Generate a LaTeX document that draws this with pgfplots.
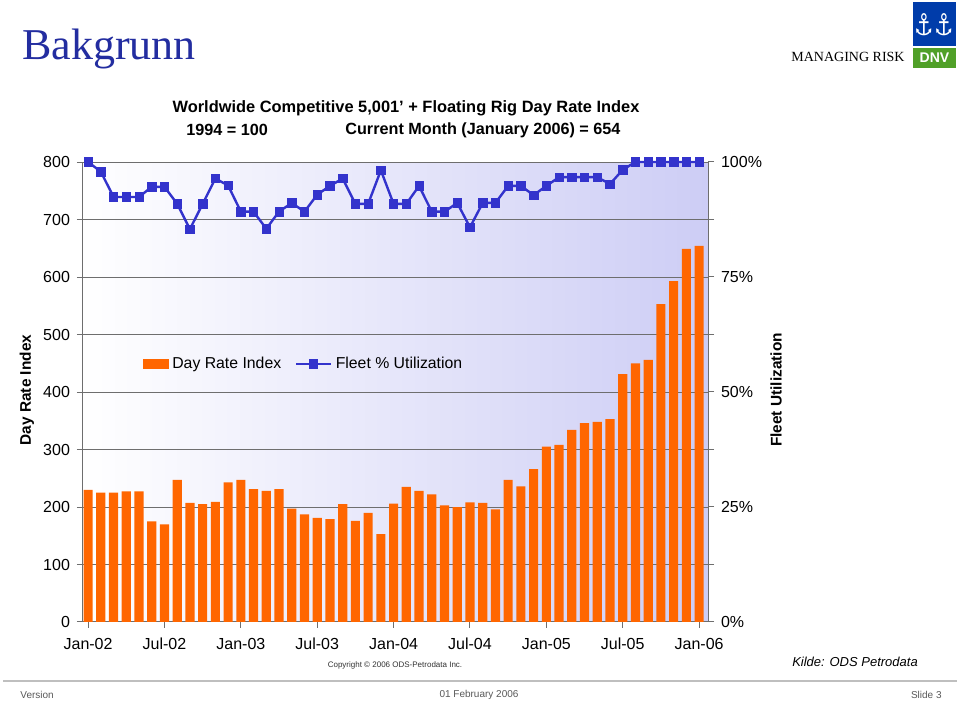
\documentclass[border=0pt]{standalone}
\usepackage{fontspec}
\setmainfont{Liberation Sans}
\newfontfamily\timesfont{Liberation Serif}
\newfontfamily\dejavu{DejaVu Sans}
\usepackage{pgfplots}
\pgfplotsset{compat=1.18}
\usepackage{pgfplotstable}

\definecolor{barorange}{RGB}{255,102,0}
\definecolor{lineblue}{RGB}{51,51,204}
\definecolor{bglav}{RGB}{205,205,245}
\definecolor{gridgray}{RGB}{110,110,110}
\definecolor{titleblue}{RGB}{35,45,160}
\definecolor{dnvblue}{RGB}{0,60,170}
\definecolor{dnvgreen}{RGB}{80,160,40}

\pgfplotstableread{
idx val
0 230
1 225
2 225
3 227
4 227
5 175
6 170
7 247
8 207
9 205
10 209
11 243
12 247
13 231
14 228
15 231
16 197
17 187
18 181
19 179
20 205
21 176
22 190
23 153
24 206
25 235
26 228
27 222
28 203
29 200
30 208
31 207
32 196
33 247
34 236
35 266
36 305
37 308
38 334
39 346
40 348
41 353
42 431
43 450
44 456
45 553
46 593
47 649
48 654
}\dayrate

\pgfplotstableread{
idx util
0 100
1 97.9
2 92.4
3 92.4
4 92.4
5 94.6
6 94.6
7 90.9
8 85.4
9 90.9
10 96.4
11 94.9
12 89.2
13 89.2
14 85.5
15 89.2
16 91.1
17 89.2
18 92.9
19 94.8
20 96.4
21 90.9
22 90.9
23 98.2
24 90.9
25 90.9
26 94.8
27 89.2
28 89.2
29 91.1
30 85.8
31 91.1
32 91.1
33 94.8
34 94.8
35 92.8
36 94.8
37 96.7
38 96.7
39 96.7
40 96.7
41 95.2
42 98.3
43 100
44 100
45 100
46 100
47 100
48 100
}\util

\begin{document}
\begin{tikzpicture}[x=0.5pt,y=0.5pt]
\fill[white] (0,0) rectangle (960,702);

% header
\node[anchor=base west, inner sep=0pt, font=\timesfont\fontsize{22}{26}\selectfont, text=titleblue] at (22,642) {Bakgrunn};
\node[anchor=base east, inner sep=0pt, font=\timesfont\fontsize{7}{8}\selectfont] at (905,640) {MANAGING RISK};
\fill[dnvblue] (913,656) rectangle (956,700);
\node[text=white, inner sep=0pt, xscale=0.72, font=\dejavu\fontsize{15}{16}\selectfont] at (924.5,677) {⚓};
\node[text=white, inner sep=0pt, xscale=0.72, font=\dejavu\fontsize{15}{16}\selectfont] at (944.5,677) {⚓};
\fill[dnvgreen] (913,634) rectangle (956,654);
\node[text=white, inner sep=0pt, font=\bfseries\fontsize{7}{8}\selectfont] at (934.5,644) {DNV};

% chart title
\node[font=\bfseries\fontsize{8.2}{9}\selectfont] at (406,594) {Worldwide Competitive 5,001' + Floating Rig Day Rate Index};
\node[anchor=west, inner sep=0pt, font=\bfseries\fontsize{8.1}{9}\selectfont] at (186,572) {1994 = 100};
\node[anchor=west, inner sep=0pt, font=\bfseries\fontsize{8.1}{9}\selectfont] at (345,572) {Current Month (January 2006) = 654};

\begin{axis}[
  at={(41.5pt,40pt)}, anchor=south west, scale only axis,
  width=312.5pt, height=230pt,
  xmin=-0.4, xmax=48.7, ymin=0, ymax=800,
  axis x line*=bottom, axis y line*=left,
  axis line style={gridgray, line width=0.5pt, -},
  axis background/.style={left color=white, right color=bglav},
  ytick={0,100,...,800}, ymajorgrids,
  grid style={gridgray, line width=0.5pt},
  xtick={0,6,...,48},
  xticklabels={Jan-02,Jul-02,Jan-03,Jul-03,Jan-04,Jul-04,Jan-05,Jul-05,Jan-06},
  xticklabel style={yshift=-1.5pt},
  tick align=outside, major tick length=3pt,
  tick style={gridgray, line width=0.5pt},
  ticklabel style={font=\fontsize{8}{9}\selectfont},
  /pgf/number format/assume math mode=true,
  ybar, bar width=0.72,
]
\addplot[fill=barorange, draw=none] table[x=idx,y=val]{\dayrate};
\end{axis}

\begin{axis}[
  at={(41.5pt,40pt)}, anchor=south west, scale only axis,
  width=312.5pt, height=230pt,
  xmin=-0.4, xmax=48.7, ymin=0, ymax=100,
  axis x line=none, axis y line*=right,
  axis line style={gridgray, line width=0.5pt, -},
  ytick={0,25,50,75,100},
  yticklabels={0\%,25\%,50\%,75\%,100\%},
  minor ytick={12.5,37.5,62.5,87.5},
  tick align=outside, major tick length=3pt, minor tick length=3pt,
  tick style={gridgray, line width=0.5pt},
  ticklabel style={font=\fontsize{8}{9}\selectfont},
  /pgf/number format/assume math mode=true,
  clip=false,
  legend columns=2,
  legend style={at={(0.085,0.561)}, anchor=west, draw=none, fill=none,
    font=\fontsize{7.9}{9}\selectfont,
    /tikz/every even column/.append style={column sep=5pt}},
]
\addlegendimage{legend image code/.code={\fill[barorange] (0pt,-2.3pt) rectangle (12.5pt,2.3pt);}}
\addlegendentry{Day Rate Index}
\addplot[lineblue, line width=1.2pt, mark=square*, mark size=2.1pt, mark options={fill=lineblue, line width=0.3pt}] table[x=idx,y=util]{\util};
\addlegendentry{Fleet \% Utilization}
\end{axis}

% axis titles
\node[rotate=90, font=\bfseries\fontsize{7.7}{9}\selectfont] at (27,312) {Day Rate Index};
\node[rotate=90, font=\bfseries\fontsize{7.7}{9}\selectfont] at (776,312) {Fleet Utilization};

% source and copyright
\node[font=\fontsize{4}{5}\selectfont, text=black!80] at (395,37) {Copyright \textcopyright\ 2006 ODS-Petrodata Inc.};
\node[font=\itshape\fontsize{6.5}{8}\selectfont] at (855,40) {Kilde: ODS Petrodata};

% footer
\draw[black!25, line width=0.6pt] (3,21) -- (957,21);
\node[anchor=west, inner sep=0pt, font=\fontsize{5}{6}\selectfont, text=black!65] at (20,7) {Version};
\node[inner sep=0pt, font=\fontsize{5}{6}\selectfont, text=black!65] at (479,7) {01 February 2006};
\node[anchor=east, inner sep=0pt, font=\fontsize{5}{6}\selectfont, text=black!65] at (942,7) {Slide 3};
\end{tikzpicture}
\end{document}
